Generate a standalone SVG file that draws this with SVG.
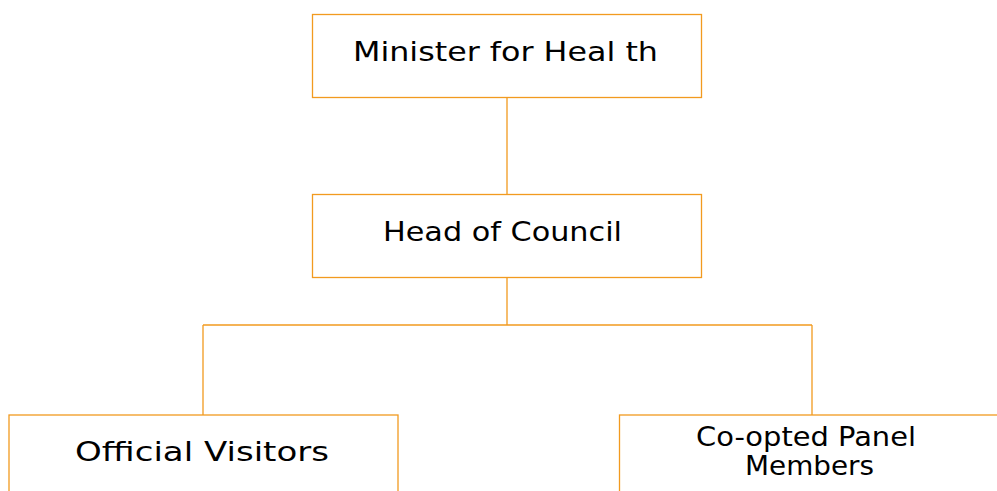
<svg xmlns="http://www.w3.org/2000/svg" width="997" height="491" viewBox="0 0 997 491">
<style>
.box{fill:#fff;stroke:#F29A1F;stroke-width:1.3}
.con{fill:none;stroke:#F29A1F;stroke-width:1.3}
.t{font-family:"DejaVu Sans","Liberation Sans",sans-serif;font-size:27px;fill:#000;text-anchor:middle}
</style>
<rect width="997" height="491" fill="#fff"/>
<g id="connectors">
<path class="con" d="M507 97V194M507 277V325M203 325H812M203 325V415M812 325V415"/>
</g>
<g id="minister">
<rect class="box" x="312.5" y="14.5" width="389" height="83"/>
<text class="t" x="505.5" y="61" textLength="305" lengthAdjust="spacingAndGlyphs">Minister for Heal th</text>
</g>
<g id="head">
<rect class="box" x="312.5" y="194.5" width="389" height="83"/>
<text class="t" x="502.5" y="241" textLength="239" lengthAdjust="spacingAndGlyphs">Head of Council</text>
</g>
<g id="visitors">
<rect class="box" x="9" y="415" width="389" height="100"/>
<text class="t" x="202" y="461" textLength="254" lengthAdjust="spacingAndGlyphs">Official Visitors</text>
</g>
<g id="panel">
<rect class="box" x="619.5" y="415" width="400" height="100"/>
<text class="t" x="806" y="446" textLength="220" lengthAdjust="spacingAndGlyphs">Co-opted Panel</text>
<text class="t" x="809.5" y="475" textLength="129" lengthAdjust="spacingAndGlyphs">Members</text>
</g>
</svg>
